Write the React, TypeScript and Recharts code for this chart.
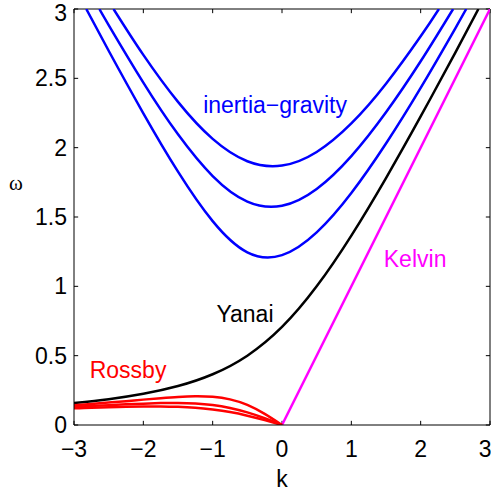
import {
  LineChart,
  Line,
  XAxis,
  YAxis,
  ReferenceLine,
  ReferenceDot,
} from "recharts";

// wavenumber k / frequency w for each branch
const igK1 = [-2.823, -2.5, -2, -1.5, -1, -0.5, 0, 0.5, 1, 1.5, 2, 2.5, 2.657];
const igW1 = [3, 2.699, 2.248, 1.827, 1.47, 1.245, 1.225, 1.389, 1.673, 2.03, 2.431, 2.861, 3];

const igK2 = [-2.634, -2.5, -2, -1.5, -1, -0.5, 0, 0.5, 1, 1.5, 2, 2.468];
const igW2 = [3, 2.884, 2.469, 2.096, 1.795, 1.611, 1.581, 1.702, 1.939, 2.255, 2.623, 3];

const igK3 = [-2.43, -2, -1.5, -1, -0.5, 0, 0.5, 1, 1.5, 2, 2.263];
const igW3 = [3, 2.669, 2.33, 2.063, 1.902, 1.871, 1.969, 2.175, 2.461, 2.803, 3];

const yanaiK = [-3, -2.5, -2, -1.5, -1, -0.5, 0, 0.5, 1, 1.5, 2, 2.5, 2.833];
const yanaiW = [0.158, 0.186, 0.225, 0.281, 0.366, 0.5, 0.707, 1.0, 1.366, 1.781, 2.225, 2.686, 3];

const kelvinK = [0, 3];
const kelvinW = [0, 3];

const rossbyK = [-3, -2.75, -2.5, -2.25, -2, -1.75, -1.5, -1.25, -1, -0.75, -0.5, -0.25, 0];
const rossbyW1 = [0.143, 0.152, 0.162, 0.172, 0.183, 0.193, 0.202, 0.207, 0.203, 0.185, 0.145, 0.08, 0];
const rossbyW2 = [0.131, 0.137, 0.143, 0.149, 0.154, 0.158, 0.159, 0.155, 0.144, 0.123, 0.091, 0.049, 0];
const rossbyW3 = [0.12, 0.125, 0.128, 0.132, 0.134, 0.134, 0.131, 0.124, 0.111, 0.093, 0.067, 0.035, 0];

const xTicks = [-3, -2, -1, 0, 1, 2, 3];
const yTicks = [0, 0.5, 1, 1.5, 2, 2.5, 3];

const zip = (ks: number[], ws: number[]) => ks.map((k, i) => ({ k, w: ws[i] }));

const FONT = "'Liberation Sans', Arial, sans-serif";
const minus = (v: number) => String(v).replace("-", "\u2212");

const curves = [
  { id: "ig1", data: zip(igK1, igW1), color: "#0000ff", type: "natural" },
  { id: "ig2", data: zip(igK2, igW2), color: "#0000ff", type: "natural" },
  { id: "ig3", data: zip(igK3, igW3), color: "#0000ff", type: "natural" },
  { id: "yanai", data: zip(yanaiK, yanaiW), color: "#000000", type: "natural" },
  { id: "kelvin", data: zip(kelvinK, kelvinW), color: "#ff00ff", type: "linear" },
  { id: "r1", data: zip(rossbyK, rossbyW1), color: "#ff0000", type: "natural" },
  { id: "r2", data: zip(rossbyK, rossbyW2), color: "#ff0000", type: "natural" },
  { id: "r3", data: zip(rossbyK, rossbyW3), color: "#ff0000", type: "natural" },
];

const tickLenW = 0.03;
const tickLenK = 0.06;

const FS = 23;
const tickStyle = { fill: "#000", fontSize: FS, fontFamily: FONT };

export default function App() {
  return (
    <div style={{ position: "absolute", left: 0, top: 0, background: "#fff" }}>
      <LineChart width={491} height={493} margin={{ top: 9, right: 1, left: 0, bottom: 0 }}>
        <XAxis
          dataKey="k"
          type="number"
          domain={[-3, 3]}
          ticks={xTicks}
          allowDataOverflow
          tickLine={false}
          tickSize={0}
          tickMargin={16}
          height={68}
          stroke="#000"
          tick={tickStyle}
          tickFormatter={minus}
          label={{ value: "k", position: "insideBottom", offset: 6, fill: "#000", fontSize: FS, fontFamily: FONT }}
        />
        <YAxis
          type="number"
          domain={[0, 3]}
          ticks={yTicks}
          allowDataOverflow
          tickLine={false}
          tickSize={0}
          tickMargin={7}
          width={74}
          stroke="#000"
          tick={tickStyle}
          label={{
            value: "ω",
            position: "insideLeft",
            offset: 9,
            dy: -34,
            fill: "#000",
            fontSize: 21,
            fontFamily: "'Liberation Serif', serif",
          }}
        />
        <ReferenceLine y={3} stroke="#000" />
        <ReferenceLine x={3} stroke="#000" />
        {xTicks.map((t) => (
          <ReferenceLine key={"xb" + t} segment={[{ x: t, y: 0 }, { x: t, y: tickLenW }]} stroke="#000" />
        ))}
        {xTicks.map((t) => (
          <ReferenceLine key={"xt" + t} segment={[{ x: t, y: 3 }, { x: t, y: 3 - tickLenW }]} stroke="#000" />
        ))}
        {yTicks.map((t) => (
          <ReferenceLine key={"yl" + t} segment={[{ x: -3, y: t }, { x: -3 + tickLenK, y: t }]} stroke="#000" />
        ))}
        {yTicks.map((t) => (
          <ReferenceLine key={"yr" + t} segment={[{ x: 3, y: t }, { x: 3 - tickLenK, y: t }]} stroke="#000" />
        ))}
        {curves.map((c) => (
          <Line
            key={c.id}
            data={c.data}
            dataKey="w"
            type={c.type as any}
            stroke={c.color}
            strokeWidth={2.5}
            dot={false}
            activeDot={false}
            isAnimationActive={false}
          />
        ))}
        <ReferenceDot x={-0.1} y={2.306} r={1} fill="none" stroke="none"
          label={{ value: "inertia\u2212gravity", position: "center", fill: "#0000ff", fontSize: FS, fontFamily: FONT }} />
        <ReferenceDot x={1.92} y={1.196} r={1} fill="none" stroke="none"
          label={{ value: "Kelvin", position: "center", fill: "#ff00ff", fontSize: FS, fontFamily: FONT }} />
        <ReferenceDot x={-0.534} y={0.799} r={1} fill="none" stroke="none"
          label={{ value: "Yanai", position: "center", fill: "#000", fontSize: FS, fontFamily: FONT }} />
        <ReferenceDot x={-2.22} y={0.395} r={1} fill="none" stroke="none"
          label={{ value: "Rossby", position: "center", fill: "#ff0000", fontSize: FS, fontFamily: FONT }} />
      </LineChart>
    </div>
  );
}
